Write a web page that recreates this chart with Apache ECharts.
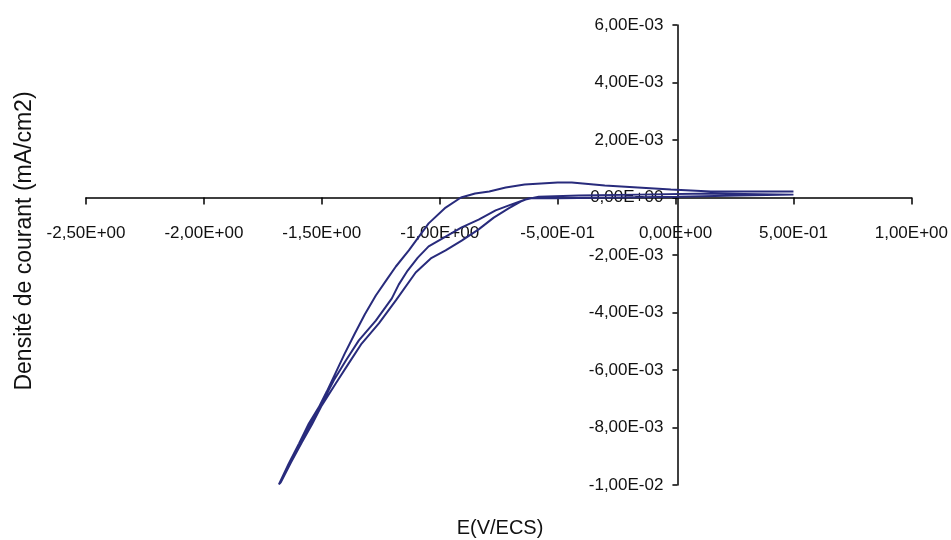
<!DOCTYPE html>
<html>
<head>
<meta charset="utf-8">
<script src="https://cdn.jsdelivr.net/npm/echarts@6/dist/echarts.min.js"></script>
<style>
html,body{margin:0;padding:0;background:#fff;}
#chart{width:951px;height:540px;}
</style>
</head>
<body>
<div id="chart"></div>
<script>
// Axis ranges / ticks
const xMin = -2.5, xMax = 1.0, xStep = 0.5;
const yMin = -0.01, yMax = 0.006, yStep = 0.002;
const xTitle = 'E(V/ECS)';
const yTitle = 'Densité de courant (mA/cm2)';

// Segment 1: anodic return from +0.5 V towards -0.91 V (upper hump)
const seg1E = [0.5, 0.35, 0.15, -0.02, -0.16, -0.30, -0.44, -0.50, -0.64, -0.72, -0.79, -0.85, -0.91];
const seg1J = [2.1e-4, 2.1e-4, 2.1e-4, 2.8e-4, 3.5e-4, 4.2e-4, 5.2e-4, 5.2e-4, 4.5e-4, 3.5e-4, 2.1e-4, 1.4e-4, 0];
// Segment 2: outer cathodic branch down to -1.68 V
const seg2E = [-0.975, -1.047, -1.131, -1.186, -1.224, -1.271, -1.318, -1.360, -1.403, -1.441, -1.479, -1.513, -1.555, -1.597, -1.640, -1.682];
const seg2J = [-3.5e-4, -9.0e-4, -1.84e-3, -2.40e-3, -2.85e-3, -3.41e-3, -4.07e-3, -4.73e-3, -5.43e-3, -6.09e-3, -6.75e-3, -7.30e-3, -7.86e-3, -8.56e-3, -9.25e-3, -9.98e-3];
// Segment 3: lower inner branch back up
const seg3E = [-1.674, -1.631, -1.585, -1.542, -1.500, -1.441, -1.386, -1.331, -1.258, -1.186, -1.102, -1.038, -0.975, -0.907, -0.835, -0.771, -0.708, -0.657, -0.623];
const seg3J = [-9.91e-3, -9.22e-3, -8.52e-3, -7.90e-3, -7.23e-3, -6.47e-3, -5.77e-3, -5.08e-3, -4.38e-3, -3.58e-3, -2.61e-3, -2.12e-3, -1.84e-3, -1.50e-3, -1.11e-3, -7.0e-4, -3.8e-4, -1.4e-4, -3e-5];
// Segment 4: forward sweep near zero to +0.5 V
const seg4E = [-0.50, -0.24, 0.01, 0.27, 0.5];
const seg4J = [-3e-5, 0, 3e-5, 7e-5, 1.0e-4];
// Segment 5: return sweep near zero
const seg5E = [0.5, 0.15, -0.16, -0.41, -0.58, -0.636];
const seg5J = [1.4e-4, 1.4e-4, 1.0e-4, 7e-5, 3e-5, -7e-5];
// Segment 6: upper inner branch down
const seg6E = [-0.695, -0.763, -0.835, -0.907, -0.975, -1.047, -1.093, -1.136, -1.174, -1.203, -1.271, -1.343, -1.398, -1.449, -1.504, -1.551, -1.593, -1.636, -1.678];
const seg6J = [-2.4e-4, -4.5e-4, -7.7e-4, -1.04e-3, -1.36e-3, -1.70e-3, -2.09e-3, -2.54e-3, -3.03e-3, -3.51e-3, -4.28e-3, -4.97e-3, -5.67e-3, -6.36e-3, -7.23e-3, -7.90e-3, -8.56e-3, -9.22e-3, -9.95e-3];

const segsE = [seg1E, seg2E, seg3E, seg4E, seg5E, seg6E];
const segsJ = [seg1J, seg2J, seg3J, seg4J, seg5J, seg6J];
const data = [];
segsE.forEach((arr, i) => arr.forEach((e, k) => data.push([e, segsJ[i][k]])));

function sci(v) {
  if (Math.abs(v) < 1e-12) return '0,00E+00';
  const sign = v < 0 ? '-' : '';
  let a = Math.abs(v);
  let e = Math.floor(Math.log10(a) + 1e-9);
  let m = a / Math.pow(10, e);
  m = Math.round(m * 100) / 100;
  if (m >= 10) { m /= 10; e += 1; }
  const es = (e < 0 ? '-' : '+') + String(Math.abs(e)).padStart(2, '0');
  return sign + m.toFixed(2).replace('.', ',') + 'E' + es;
}

// layout
const W = 951, H = 540;
const gLeft = 86, gRight = 37, gTop = 25, gBottom = 55;
const gW = W - gLeft - gRight, gH = H - gTop - gBottom;
// place axes through the origin (labels follow)
const xZeroPx = gW * (0 - xMin) / (xMax - xMin);        // from grid left
const yZeroPx = gH * (0 - yMin) / (yMax - yMin);        // from grid bottom

const font = '"Liberation Sans", Arial, sans-serif';
const chart = echarts.init(document.getElementById('chart'), null, {renderer: 'canvas'});
chart.setOption({
  animation: false,
  backgroundColor: '#ffffff',
  grid: {left: gLeft, right: gRight, top: gTop, bottom: gBottom, containLabel: false},
  xAxis: {
    type: 'value', min: xMin, max: xMax, interval: xStep,
    position: 'bottom', offset: -yZeroPx,
    axisLine: {onZero: false, lineStyle: {color: '#000', width: 1.5}},
    axisTick: {show: true, inside: false, length: 7, lineStyle: {color: '#000', width: 1.5}},
    axisLabel: {formatter: sci, color: '#111', fontSize: 17, fontFamily: font, margin: 27, showMinLabel: true, showMaxLabel: true},
    splitLine: {show: false}
  },
  yAxis: {
    type: 'value', min: yMin, max: yMax, interval: yStep,
    position: 'left', offset: -xZeroPx,
    axisLine: {show: true, onZero: false, lineStyle: {color: '#000', width: 1.5}},
    axisTick: {show: true, inside: false, length: 5, lineStyle: {color: '#000', width: 1.5}},
    axisLabel: {formatter: sci, color: '#111', fontSize: 17, fontFamily: font, margin: 14, showMinLabel: true, showMaxLabel: true},
    splitLine: {show: false}
  },
  series: [{
    type: 'line',
    data: data,
    showSymbol: false,
    symbol: 'none',
    smooth: false,
    lineStyle: {color: '#282b7c', width: 2},
    z: 3
  }],
  graphic: [
    {type: 'text', x: 500, y: 528, style: {text: xTitle, fill: '#111', font: '20px ' + font, align: 'center', verticalAlign: 'middle'}},
    {type: 'text', x: 25, y: 241, rotation: Math.PI / 2, style: {text: yTitle, fill: '#111', font: '23px ' + font, align: 'center', verticalAlign: 'middle'}}
  ]
});
</script>
</body>
</html>
